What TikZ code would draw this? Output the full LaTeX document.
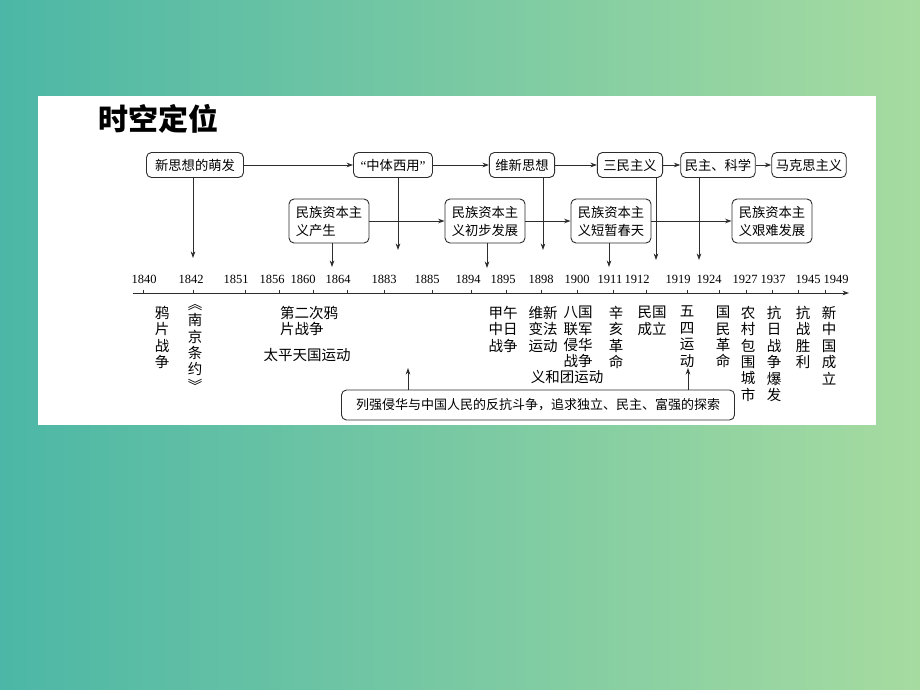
\documentclass[tikz,border=0pt]{standalone}
\usepackage{fontspec}
\setmainfont{Liberation Serif}
\newfontfamily\cjk{Noto Sans CJK SC}
\usepackage{xcolor}
\usepackage{tikz}
\definecolor{bgteal}{RGB}{76,183,166}
\definecolor{bggreen}{RGB}{166,219,160}
\definecolor{linegray}{RGB}{45,45,45}
\usetikzlibrary{arrows.meta,positioning}

\begin{document}
\begin{tikzpicture}[x=1pt, y=-1pt,
    >={Stealth[length=6.5pt,width=4.6pt]},
    stagebox/.style={draw=linegray, line width=0.9pt, rounded corners=5pt, fill=white, font=\cjk\fontsize{13.3}{18}\selectfont, inner xsep=6pt, minimum height=25pt},
    capbox/.style={stagebox, align=left, minimum width=80pt, minimum height=44pt},
    event/.style={font=\cjk\fontsize{14.5}{16.4}\selectfont, align=center, inner sep=0pt, anchor=north},
    year/.style={font=\fontsize{12.5}{13}\selectfont, inner sep=0pt},
    link/.style={->, draw=linegray, line width=0.9pt}]
    \fill[left color=bgteal, right color=bggreen] (0,0) rectangle (920,690);
    \fill[white] (38,96) rectangle (876,425);
    \node[font=\cjk\bfseries\fontsize{30}{30}\selectfont, inner sep=0pt] (title) at (158,119) {时空定位};

    \node[stagebox, minimum width=97pt] (sprout) at (195,165) {新思想的萌发};
    \node[stagebox, minimum width=79pt] (tiyong) at (393,165) {{\rmfamily “}中体西用{\rmfamily ”}};
    \node[stagebox] (weixin) at (522,165) {维新思想};
    \node[stagebox] (sanmin) at (630,165) {三民主义};
    \node[stagebox, inner xsep=4pt] (minzhu) at (718,165) {民主、科学};
    \node[stagebox, inner xsep=4pt] (makesi) at (809,165) {马克思主义};
    \draw[link] (sprout) -- (tiyong);
    \draw[link] (tiyong) -- (weixin);
    \draw[link] (weixin) -- (sanmin);
    \draw[link] (sanmin) -- (minzhu);
    \draw[link] (minzhu) -- (makesi);

    \node[capbox] (cap1) at (329,221) {民族资本主\\义产生};
    \node[capbox] (cap2) at (485,221) {民族资本主\\义初步发展};
    \node[capbox] (cap3) at (611,221) {民族资本主\\义短暂春天};
    \node[capbox] (cap4) at (772,221) {民族资本主\\义艰难发展};
    \draw[link] (cap1) -- (cap2);
    \draw[link] (cap2) -- (cap3);
    \draw[link] (cap3) -- (cap4);

    \coordinate (d1) at (193,258);
    \coordinate (d2) at (398,250);
    \coordinate (d3) at (543,250);
    \coordinate (d4) at (656,260);
    \coordinate (d5) at (699,260);
    \coordinate (d6) at (332,267);
    \coordinate (d7) at (487,268);
    \coordinate (d8) at (609,267);
    \draw[link] (sprout.south -| d1) -- (d1);
    \draw[link] (tiyong.south -| d2) -- (d2);
    \draw[link] (weixin.south -| d3) -- (d3);
    \draw[link] (sanmin.south -| d4) -- (d4);
    \draw[link] (minzhu.south -| d5) -- (d5);
    \draw[link] (cap1.south -| d6) -- (d6);
    \draw[link] (cap2.south -| d7) -- (d7);
    \draw[link] (cap3.south -| d8) -- (d8);

    \coordinate (axL) at (133,293);
    \coordinate (axR) at (849,293);
    \draw[link] (axL) -- (axR);
    \foreach \lx/\tx/\yr in {144/143/1840, 191/193/1842, 236/245/1851, 272/279/1856, 303/313/1860, 338/347/1864, 384/384/1883, 427/432/1885, 468/471/1894, 503/506/1895, 541/541/1898, 577/577/1900, 610/613/1911, 637/646/1912, 678/687/1919, 709/719/1924, 745/746/1927, 773/772/1937, 808/798/1945, 836/825/1949} {
        \node[year] (y\yr) at (\lx,279) {\yr};
        \draw[linegray, line width=0.9pt] (\tx,293) -- (\tx,289.5);
    }

    \node[event] (ev1) at (162,306) {鸦\\片\\战\\争};
    \node[event] (ev2) at (195,304) {︽\\南\\京\\条\\约\\︾};
    \node[event, align=left, anchor=north west] (ev3) at (280,306) {第二次鸦\\片战争};
    \node[event, anchor=center] (ev4) at (307,355) {太平天国运动};
    \node[event] (ev5) at (503,306) {甲午\\中日\\战争};
    \node[event] (ev6) at (543,306) {维新\\变法\\运动};
    \node[event] (ev7) at (578,306) {八国\\联军\\侵华\\战争};
    \node[event, anchor=center] (ev8) at (567,377) {义和团运动};
    \node[event] (ev9) at (616,306) {辛\\亥\\革\\命};
    \node[event] (ev10) at (652,306) {民国\\成立};
    \node[event] (ev11) at (687,306) {五\\四\\运\\动};
    \node[event] (ev12) at (723,306) {国\\民\\革\\命};
    \node[event] (ev13) at (748,306) {农\\村\\包\\围\\城\\市};
    \node[event] (ev14) at (774,306) {抗\\日\\战\\争\\爆\\发};
    \node[event] (ev15) at (803,306) {抗\\战\\胜\\利};
    \node[event] (ev16) at (829,306) {新\\中\\国\\成\\立};

    \node[stagebox, minimum width=393pt, minimum height=30pt, font=\cjk\fontsize{13}{15}\selectfont] (struggle) at (538,405) {列强侵华与中国人民的反抗斗争，追求独立、民主、富强的探索};
    \coordinate (u1) at (408,368);
    \coordinate (u2) at (688,368);
    \draw[link] (struggle.north -| u1) -- (u1);
    \draw[link] (struggle.north -| u2) -- (u2);
\end{tikzpicture}
\end{document}
